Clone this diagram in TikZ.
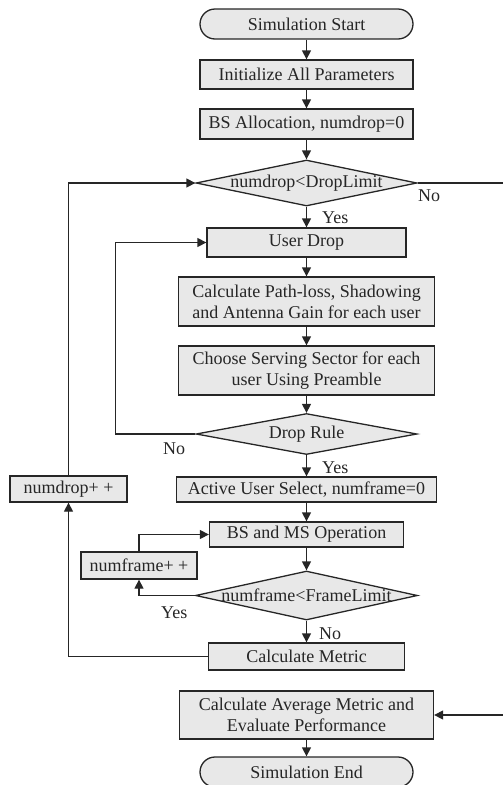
\documentclass[tikz,border=0pt]{standalone}
\usepackage{fontspec}
\setmainfont{Liberation Serif}
\usepackage{tikz}
\usetikzlibrary{shapes.geometric, arrows.meta}

\begin{document}
\begin{tikzpicture}[x=1pt, y=-1pt,
        font=\fontsize{18}{21}\selectfont, text=black!85,
        >={Triangle[length=9pt,width=9pt]},
        line/.style={draw=black!85, line width=1.3pt},
        proc/.style={draw=black!85, line width=1.3pt, fill=black!9, inner sep=0pt, align=center},
        term/.style={proc, rounded corners=15pt, minimum width=213pt, minimum height=30pt},
        dec/.style={proc, diamond, minimum width=221pt, minimum height=46pt},
        lbl/.style={inner sep=0pt, anchor=west}]
        \clip (0,0) rectangle (503,785);

        % Setup
        \node[term] (start) at (306.5,24) {Simulation Start};
        \node[proc, minimum width=213pt, minimum height=29pt] (init) at (306.5,74.5) {Initialize All Parameters};
        \node[proc, minimum width=213pt, minimum height=30pt] (alloc) at (306.5,124) {BS Allocation, numdrop=0};
        \node[dec, label={center:numdrop<DropLimit}] (droplim) at (306.5,183) {};

        % Drop loop
        \node[proc, minimum width=199pt, minimum height=29pt] (drop) at (306.5,242.5) {User Drop};
        \node[proc, minimum width=256pt, minimum height=49pt] (path) at (306.5,301.5) {Calculate Path-loss, Shadowing\\and Antenna Gain for each user};
        \node[proc, minimum width=256pt, minimum height=49pt] (serve) at (306.5,370.5) {Choose Serving Sector for each\\user Using Preamble};
        \node[dec, minimum height=41pt, label={center:Drop Rule}] (droprule) at (306.5,434) {};
        \node[proc, minimum width=260pt, minimum height=25pt] (active) at (306.5,489.5) {Active User Select, numframe=0};
        \node[proc, minimum width=117pt, minimum height=26pt] (numdrop) at (68.5,489) {numdrop+ +};

        % Frame loop
        \node[proc, minimum width=194pt, minimum height=25pt] (bsms) at (306.5,534.5) {BS and MS Operation};
        \node[proc, minimum width=116pt, minimum height=27pt] (numframe) at (139,565.5) {numframe+ +};
        \node[dec, minimum width=222pt, minimum height=49pt, label={center:numframe<FrameLimit}] (framelim) at (306.5,595.5) {};
        \node[proc, minimum width=196pt, minimum height=27pt] (metric) at (306.5,656.5) {Calculate Metric};

        % End
        \node[proc, minimum width=254pt, minimum height=48pt] (avg) at (306.5,715) {Calculate Average Metric and\\Evaluate Performance};
        \node[term] (end) at (306.5,772) {Simulation End};

        % Labels
        \node[lbl] (yes1) at (322,218) {Yes};
        \node[lbl] (no1) at (418,196) {No};
        \node[lbl] (no2) at (163,449) {No};
        \node[lbl] (yes2) at (322,468) {Yes};
        \node[lbl] (yes3) at (161,613) {Yes};
        \node[lbl] (no3) at (319,634) {No};

        % Connectors
        \draw[line,->] (start) -- (init);
        \draw[line,->] (init) -- (alloc);
        \draw[line,->] (alloc) -- (droplim);
        \draw[line,->] (droplim) -- (drop);
        \draw[line,->] (drop) -- (path);
        \draw[line,->] (path) -- (serve);
        \draw[line,->] (serve) -- (droprule);
        \draw[line,->] (droprule) -- (active);
        \draw[line,->] (active) -- (bsms);
        \draw[line,->] (bsms) -- (framelim);
        \draw[line,->] (framelim) -- (metric);
        \draw[line,->] (avg) -- (end);
        \draw[line,->] (droprule.west) -- ++(-80,0) |- (drop.west);
        \draw[line,->] (framelim.west) -| (numframe.south);
        \draw[line,->] (numframe.north) |- (bsms.west);
        \draw[line,->] (metric.west) -| (numdrop.south);
        \draw[line,->] (numdrop.north) |- (droplim.west);
        \draw[line,->] (droplim.east) -- ++(100,0) |- (avg.east);
    \end{tikzpicture}
\end{document}
